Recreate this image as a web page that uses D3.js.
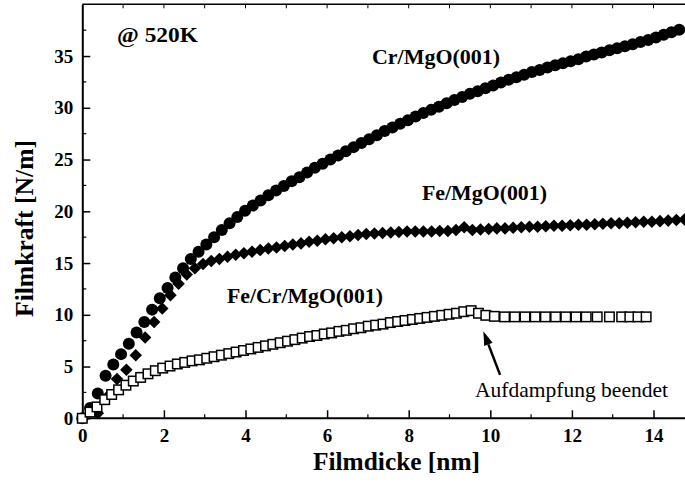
<!DOCTYPE html>
<html><head><meta charset="utf-8">
<script src="https://cdn.jsdelivr.net/npm/d3@7"></script>
<style>html,body{margin:0;padding:0;background:#fff}svg{display:block}
svg text{font-family:"Liberation Serif","Times New Roman","DejaVu Serif",serif;}</style>
</head><body>
<script>
// ---- data ----
const crX = [0.0,0.19,0.38,0.57,0.76,0.95,1.14,1.33,1.52,1.71,1.90,2.09,2.28,2.47,2.66,2.85,3.04,3.23,3.42,3.61,3.80,3.99,4.18,4.37,4.56,4.75,4.94,5.13,5.32,5.51,5.70,5.89,6.08,6.27,6.46,6.65,6.84,7.03,7.22,7.41,7.60,7.79,7.98,8.17,8.36,8.55,8.74,8.93,9.12,9.31,9.50,9.69,9.88,10.07,10.26,10.45,10.64,10.83,11.02,11.21,11.40,11.59,11.78,11.97,12.16,12.35,12.54,12.73,12.92,13.11,13.30,13.49,13.68,13.87,14.06,14.25,14.44,14.63];
const crY = [0.0,1.0,2.4,4.1,5.2,6.2,7.2,8.3,9.3,10.5,11.6,12.6,13.6,14.5,15.4,16.1,16.8,17.5,18.2,18.85,19.45,20.05,20.55,21.05,21.55,22.0,22.45,22.9,23.3,23.75,24.2,24.6,25.0,25.4,25.8,26.2,26.6,26.95,27.35,27.75,28.1,28.45,28.8,29.15,29.5,29.8,30.1,30.45,30.75,31.05,31.35,31.6,31.9,32.15,32.45,32.7,32.95,33.2,33.45,33.65,33.9,34.1,34.3,34.5,34.7,34.95,35.15,35.35,35.55,35.75,35.95,36.15,36.35,36.55,36.8,37.05,37.3,37.55];

const feX = [0.38,0.62,0.85,1.08,1.31,1.54,1.76,1.96,2.16,2.36,2.56,2.76,2.96,3.16,3.36,3.56,3.76,3.96,4.16,4.36,4.56,4.76,4.96,5.16,5.36,5.56,5.76,5.96,6.16,6.36,6.56,6.76,6.96,7.16,7.36,7.56,7.76,7.96,8.16,8.36,8.56,8.76,8.96,9.16,9.36,9.56,9.76,9.96,10.16,10.36,10.56,10.76,10.96,11.16,11.36,11.56,11.76,11.96,12.16,12.36,12.56,12.76,12.96,13.16,13.36,13.56,13.76,13.96,14.16,14.36,14.56,14.76];
const feY = [0.5,2.1,3.8,4.7,6.1,7.8,9.3,10.6,11.9,13.0,13.9,14.5,14.9,15.2,15.4,15.6,15.8,15.95,16.1,16.25,16.4,16.5,16.65,16.8,16.9,17.05,17.15,17.3,17.4,17.5,17.6,17.7,17.8,17.85,17.9,17.95,18.0,18.05,18.05,18.05,18.05,18.1,18.1,18.2,18.45,18.2,18.25,18.3,18.35,18.35,18.4,18.45,18.5,18.5,18.55,18.6,18.6,18.65,18.7,18.7,18.75,18.8,18.85,18.85,18.9,18.95,19.0,19.0,19.05,19.1,19.15,19.2];

const fecrX = [0.0,0.19,0.36,0.55,0.72,0.89,1.07,1.25,1.43,1.61,1.79,1.97,2.15,2.33,2.51,2.69,2.87,3.05,3.23,3.41,3.59,3.77,3.95,4.13,4.31,4.49,4.67,4.85,5.03,5.21,5.39,5.57,5.75,5.93,6.11,6.29,6.47,6.65,6.83,7.01,7.19,7.37,7.55,7.73,7.91,8.09,8.27,8.45,8.63,8.81,8.99,9.17,9.35,9.53,9.71,9.89,10.10,10.35,10.60,10.85,11.10,11.35,11.60,11.85,12.10,12.35,12.62,12.92,13.22,13.42,13.62,13.82];
const fecrY = [0.0,0.6,1.1,1.8,2.3,2.75,3.2,3.6,3.95,4.3,4.6,4.85,5.05,5.25,5.4,5.55,5.65,5.8,5.95,6.1,6.25,6.4,6.55,6.7,6.85,7.0,7.15,7.3,7.45,7.6,7.75,7.9,8.0,8.15,8.25,8.4,8.5,8.65,8.75,8.9,9.0,9.1,9.25,9.35,9.45,9.55,9.65,9.75,9.85,9.95,10.05,10.15,10.3,10.4,10.15,9.95,9.85,9.8,9.8,9.8,9.8,9.8,9.8,9.8,9.8,9.8,9.8,9.8,9.8,9.8,9.8,9.8];

const xTicks = [0,2,4,6,8,10,12,14];
const yTicks = [0,5,10,15,20,25,30,35];
const seriesLabels = ["Cr/MgO(001)","Fe/MgO(001)","Fe/Cr/MgO(001)"];
const tempLabel = "@ 520K";
const noteLabel = "Aufdampfung beendet";
const xTitle = "Filmdicke [nm]";
const yTitle = "Filmkraft [N/m]";
// arrow: from tail to tip (data units)
const arrowFrom = [10.24, 4.2];
const arrowTo = [9.83, 8.4];

// ---- drawing ----
const W = 685, H = 483;
const svg = d3.select("body").append("svg").attr("width", W).attr("height", H);
const x = d3.scaleLinear().domain([0, 15]).range([82.3, 694.3]);
const y = d3.scaleLinear().domain([0, 40]).range([418.3, 4.3]);

// frame: top line
svg.append("line").attr("x1", x(0)).attr("x2", W).attr("y1", y(40)).attr("y2", y(40))
  .attr("stroke", "#000").attr("stroke-width", 1.6);
// top ticks
svg.append("g").selectAll("line").data(d3.range(1, 15)).join("line")
  .attr("x1", d => x(d)).attr("x2", d => x(d)).attr("y1", y(40)).attr("y2", y(40) + 4)
  .attr("stroke", "#000").attr("stroke-width", 1);

// bottom axis
const gx = svg.append("g").attr("transform", `translate(0,${y(0)})`)
  .call(d3.axisBottom(x).tickValues(xTicks).tickFormat(d3.format("d")).tickSizeInner(-8).tickSizeOuter(0).tickPadding(10));
gx.attr("font-family", null);
gx.select(".domain").attr("d", `M${x(0)},0H${W}`).attr("stroke-width", 2);
gx.selectAll(".tick line").attr("stroke-width", 1.5);
gx.selectAll("text").style("font-weight", "bold").style("font-size", "19px").attr("fill", "#000");
// minor x
svg.append("g").selectAll("line").data(d3.range(1, 15, 2)).join("line")
  .attr("x1", d => x(d)).attr("x2", d => x(d)).attr("y1", y(0)).attr("y2", y(0) - 4)
  .attr("stroke", "#000").attr("stroke-width", 1.2);

// left axis
const gy = svg.append("g").attr("transform", `translate(${x(0)},0)`)
  .call(d3.axisLeft(y).tickValues(yTicks).tickFormat(d3.format("d")).tickSizeInner(-8).tickSizeOuter(0).tickPadding(9));
gy.attr("font-family", null);
gy.select(".domain").attr("stroke-width", 2);
gy.selectAll(".tick line").attr("stroke-width", 1.5);
gy.selectAll("text").style("font-weight", "bold").style("font-size", "19px").attr("fill", "#000");
// minor y
svg.append("g").selectAll("line").data(d3.range(2.5, 40, 5)).join("line")
  .attr("x1", x(0)).attr("x2", x(0) + 4).attr("y1", d => y(d)).attr("y2", d => y(d))
  .attr("stroke", "#000").attr("stroke-width", 1.2);

// data
const plot = svg.append("g");
const feData = feX.map((v, i) => [v, feY[i]]);
const crData = crX.map((v, i) => [v, crY[i]]);
const fecrData = fecrX.map((v, i) => [v, fecrY[i]]);

plot.append("g").selectAll("path").data(feData).join("path")
  .attr("d", d3.symbol(d3.symbolDiamond2, 100)())
  .attr("transform", d => `translate(${x(d[0])},${y(d[1])})`)
  .attr("fill", "#000");

plot.append("g").selectAll("circle").data(crData).join("circle")
  .attr("cx", d => x(d[0])).attr("cy", d => y(d[1])).attr("r", 6)
  .attr("fill", "#000");

const s = 9.5;
plot.append("g").selectAll("rect").data(fecrData).join("rect")
  .attr("x", d => x(d[0]) - s / 2).attr("y", d => y(d[1]) - s / 2)
  .attr("width", s).attr("height", s)
  .attr("fill", "#fff").attr("stroke", "#000").attr("stroke-width", 1.5);

// labels (textLength keeps the reference's text extents)
const lab = (t, px, py, size, weight, len) => svg.append("text").text(t)
  .attr("x", px).attr("y", py).style("font-size", size + "px")
  .style("font-weight", weight).attr("fill", "#000")
  .attr("textLength", len).attr("lengthAdjust", "spacingAndGlyphs");
lab(tempLabel, 117, 42, 22, "bold", 81);
lab(seriesLabels[0], 372, 64, 22, "bold", 128);
lab(seriesLabels[1], 422, 200, 22, "bold", 125);
lab(seriesLabels[2], 227, 303, 22, "bold", 156);
lab(noteLabel, 475, 397, 21, "normal", 193);

// arrow
const ax1 = x(arrowFrom[0]), ay1 = y(arrowFrom[1]), ax2 = x(arrowTo[0]), ay2 = y(arrowTo[1]);
const ang = Math.atan2(ay2 - ay1, ax2 - ax1);
const hl = 14, hw = 4.5;
const bx = ax2 - hl * Math.cos(ang), by = ay2 - hl * Math.sin(ang);
svg.append("line").attr("x1", ax1).attr("y1", ay1).attr("x2", bx).attr("y2", by)
  .attr("stroke", "#000").attr("stroke-width", 2.5);
svg.append("path").attr("d", `M${ax2},${ay2}L${bx + hw * Math.sin(ang)},${by - hw * Math.cos(ang)}L${bx - hw * Math.sin(ang)},${by + hw * Math.cos(ang)}Z`)
  .attr("fill", "#000");

// axis titles
svg.append("text").text(xTitle).attr("x", 313).attr("y", 470)
  .style("font-size", "25px").style("font-weight", "bold").attr("fill", "#000")
  .attr("textLength", 167).attr("lengthAdjust", "spacingAndGlyphs");
svg.append("text").text(yTitle).attr("transform", "translate(33,317) rotate(-90)")
  .style("font-size", "25px").style("font-weight", "bold").attr("fill", "#000")
  .attr("textLength", 177).attr("lengthAdjust", "spacingAndGlyphs");
</script>
</body></html>
